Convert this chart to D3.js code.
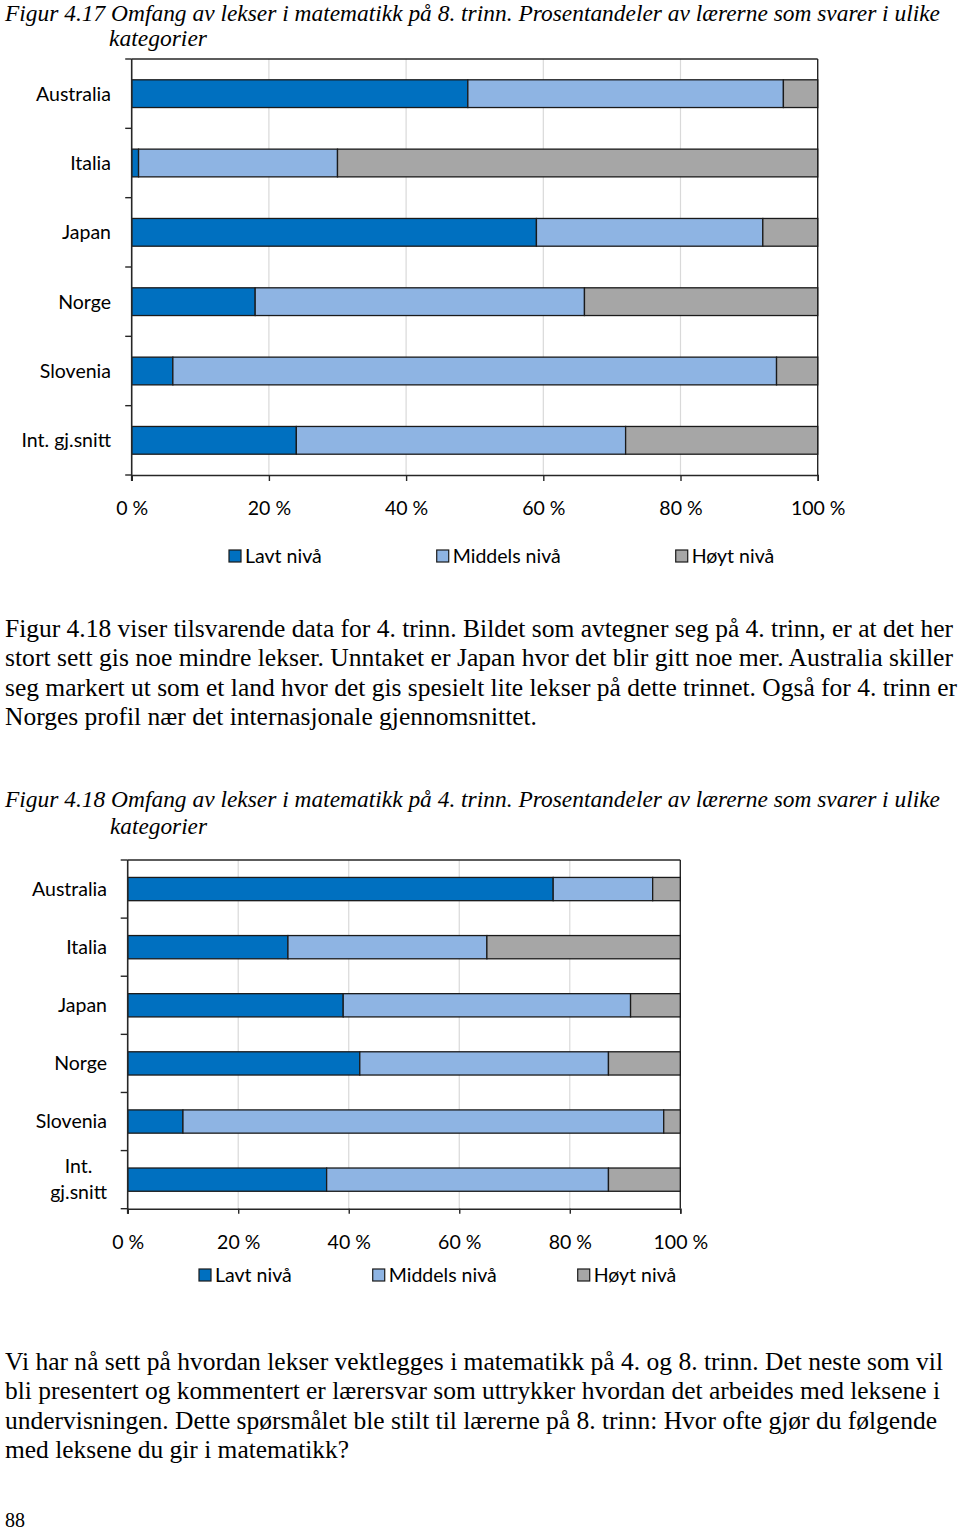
<!DOCTYPE html>
<html>
<head>
<meta charset="utf-8">
<script src="https://cdn.jsdelivr.net/npm/d3@7/dist/d3.min.js"></script>
<style>
  html, body { margin: 0; padding: 0; background: #fff; }
  svg { display: block; }
</style>
</head>
<body>
<svg id="page" width="960" height="1532"></svg>
<script>
// ---------------- DATA ----------------
const categories = ["Australia", "Italia", "Japan", "Norge", "Slovenia", "Int. gj.snitt"];
const seriesNames = ["Lavt nivå", "Middels nivå", "Høyt nivå"];
const seriesKeys = ["lavt", "middels", "hoyt"];

// Figur 4.17 – 8. trinn
const lavt8    = [49, 1, 59, 18, 6, 24];
const middels8 = [46, 29, 33, 48, 88, 48];
const hoyt8    = [5, 70, 8, 34, 6, 28];

// Figur 4.18 – 4. trinn
const lavt4    = [77, 29, 39, 42, 10, 36];
const middels4 = [18, 36, 52, 45, 87, 51];
const hoyt4    = [5, 35, 9, 13, 3, 13];

const tickValues = [0, 20, 40, 60, 80, 100];
const tickLabels = ["0 %", "20 %", "40 %", "60 %", "80 %", "100 %"];

const title1 = ["Figur 4.17 Omfang av lekser i matematikk på 8. trinn. Prosentandeler av lærerne som svarer i ulike", "kategorier"];
const title2 = ["Figur 4.18 Omfang av lekser i matematikk på 4. trinn. Prosentandeler av lærerne som svarer i ulike", "kategorier"];
const para1 = [
  "Figur 4.18 viser tilsvarende data for 4. trinn. Bildet som avtegner seg på 4. trinn, er at det her",
  "stort sett gis noe mindre lekser. Unntaket er Japan hvor det blir gitt noe mer. Australia skiller",
  "seg markert ut som et land hvor det gis spesielt lite lekser på dette trinnet. Også for 4. trinn er",
  "Norges profil nær det internasjonale gjennomsnittet."
];
const para2 = [
  "Vi har nå sett på hvordan lekser vektlegges i matematikk på 4. og 8. trinn. Det neste som vil",
  "bli presentert og kommentert er lærersvar som uttrykker hvordan det arbeides med leksene i",
  "undervisningen. Dette spørsmålet ble stilt til lærerne på 8. trinn: Hvor ofte gjør du følgende",
  "med leksene du gir i matematikk?"
];
const pageNumber = "88";

// ---------------- STYLE ----------------
const colors = { lavt: "#0070C0", middels: "#8EB4E3", hoyt: "#A6A6A6" };
const chartFont = "Lato, 'Open Sans', 'Noto Sans', sans-serif";
const serifFont = "'Liberation Serif', 'DejaVu Serif', serif";
const axisColor = "#262626";
const gridColor = "#D9D9D9";

const svg = d3.select("#page");
svg.append("rect").attr("width", 960).attr("height", 1532).attr("fill", "#fff");

// fit chart font so that "Australia" measures like the reference (≈75px)
const probe = svg.append("text").attr("font-family", chartFont).attr("font-size", 100).text("Australia");
const probeW = probe.node().getComputedTextLength();
probe.remove();
const chartFontSize = Math.min(22, 100 * 75 / probeW);

// ---------------- TEXT HELPERS ----------------
function textLine(str, x, y, opts) {
  const t = svg.append("text")
    .attr("x", x).attr("y", y)
    .attr("font-family", opts.family || serifFont)
    .attr("font-size", opts.size)
    .attr("font-style", opts.italic ? "italic" : "normal")
    .attr("fill", "#000")
    .text(str);
  if (opts.width) t.attr("textLength", opts.width).attr("lengthAdjust", "spacingAndGlyphs");
  return t;
}

// ---------------- CHART ----------------
function drawChart(cfg) {
  const data = categories.map((c, i) => ({
    cat: c, lavt: cfg.lavt[i], middels: cfg.middels[i], hoyt: cfg.hoyt[i]
  }));
  const x = d3.scaleLinear().domain([0, 100]).range([cfg.x0, cfg.x1]);
  const y = d3.scaleBand().domain(categories).range([cfg.y0, cfg.y1])
    .paddingInner(0.6).paddingOuter(0.3);
  const stacked = d3.stack().keys(seriesKeys)(data);

  const g = svg.append("g");

  // gridlines
  g.selectAll("line.grid").data(tickValues.slice(1, -1)).join("line")
    .attr("x1", d => x(d)).attr("x2", d => x(d))
    .attr("y1", cfg.y0).attr("y2", cfg.y1)
    .attr("stroke", gridColor).attr("stroke-width", 1.2);

  // plot-area border (top & right)
  g.append("line").attr("x1", cfg.x0).attr("x2", cfg.x1).attr("y1", cfg.y0).attr("y2", cfg.y0)
    .attr("stroke", axisColor).attr("stroke-width", 1.4);
  g.append("line").attr("x1", cfg.x1).attr("x2", cfg.x1).attr("y1", cfg.y0).attr("y2", cfg.y1)
    .attr("stroke", axisColor).attr("stroke-width", 1.4);

  // bars
  g.selectAll("g.series").data(stacked).join("g")
    .attr("fill", d => colors[d.key])
    .selectAll("rect").data(d => d).join("rect")
    .attr("x", d => x(d[0]))
    .attr("width", d => x(d[1]) - x(d[0]))
    .attr("y", d => y(d.data.cat))
    .attr("height", y.bandwidth())
    .attr("stroke", "#1a1a1a").attr("stroke-width", 1.3);

  // x axis
  const xAxis = d3.axisBottom(x).tickValues(tickValues).tickSize(cfg.tickLenX)
    .tickFormat((d, i) => tickLabels[i]).tickPadding(0);
  const ax = g.append("g").attr("transform", `translate(0,${cfg.y1})`).call(xAxis);
  ax.select(".domain").attr("stroke", axisColor).attr("stroke-width", 1.6);
  ax.selectAll(".tick line").attr("stroke", axisColor).attr("stroke-width", 1.4);
  ax.selectAll(".tick text")
    .attr("font-family", chartFont).attr("font-size", chartFontSize).attr("fill", "#000")
    .attr("dy", null).attr("y", cfg.tickLabelY - cfg.y1);

  // y axis: tick marks at band boundaries
  const step = (cfg.y1 - cfg.y0) / categories.length;
  const bounds = d3.range(categories.length + 1).map(i => cfg.y0 + i * step);
  g.selectAll("line.ytick").data(bounds).join("line")
    .attr("x1", cfg.x0 - cfg.tickLenY).attr("x2", cfg.x0)
    .attr("y1", d => d).attr("y2", d => d)
    .attr("stroke", axisColor).attr("stroke-width", 1.4);
  g.append("line").attr("x1", cfg.x0).attr("x2", cfg.x0).attr("y1", cfg.y0).attr("y2", cfg.y1 + cfg.tickLenX)
    .attr("stroke", axisColor).attr("stroke-width", 1.6);

  // category labels
  categories.forEach(c => {
    const cy = y(c) + y.bandwidth() / 2;
    const lines = (cfg.wrap && c.indexOf(" ") > 0) ? c.split(" ") : [c];
    const t = g.append("text")
      .attr("font-family", chartFont).attr("font-size", chartFontSize).attr("fill", "#000");
    if (lines.length === 1) {
      t.attr("x", cfg.labelRight).attr("y", cy).attr("dy", "0.35em")
        .attr("text-anchor", "end").text(c);
    } else {
      t.attr("text-anchor", "middle");
      const spans = lines.map((l, i) => t.append("tspan").text(l));
      const maxW = d3.max(spans, s => s.node().getComputedTextLength());
      const cx = cfg.labelRight - maxW / 2;
      const lh = 26;
      spans.forEach((s, i) => s.attr("x", cx).attr("y", cy + (i - (lines.length - 1) / 2) * lh).attr("dy", "0.35em"));
    }
  });

  // legend
  let lx = cfg.legendX;
  seriesKeys.forEach((k, i) => {
    const sq = 12;
    g.append("rect").attr("x", lx).attr("y", cfg.legendY - 13).attr("width", sq).attr("height", sq)
      .attr("fill", colors[k]).attr("stroke", "#1a1a1a").attr("stroke-width", 1.2);
    const t = g.append("text").attr("x", lx + sq + 4).attr("y", cfg.legendY)
      .attr("font-family", chartFont).attr("font-size", chartFontSize).attr("fill", "#000")
      .text(seriesNames[i]);
    lx += sq + 4 + t.node().getComputedTextLength() + cfg.legendGap;
  });
}

// ---------------- PAGE ----------------
// Title 1
textLine(title1[0], 5, 20.5, { size: 23, italic: true, width: 935 });
textLine(title1[1], 109, 46, { size: 23, italic: true, width: 98 });

drawChart({
  lavt: lavt8, middels: middels8, hoyt: hoyt8,
  x0: 131.7, x1: 817.7, y0: 59, y1: 475,
  labelRight: 111, tickLenX: 6, tickLenY: 6.5, tickLabelY: 515,
  legendX: 229, legendY: 563, legendGap: 115, wrap: false
});

// Paragraph 1
const p1Widths = [948, 948, 952, 532];
para1.forEach((l, i) => textLine(l, 5, 637 + i * 29.3, { size: 25.5, width: p1Widths[i] }));

// Title 2
textLine(title2[0], 5, 807, { size: 23, italic: true, width: 935 });
textLine(title2[1], 110, 834, { size: 23, italic: true, width: 97 });

drawChart({
  lavt: lavt4, middels: middels4, hoyt: hoyt4,
  x0: 127.7, x1: 680.3, y0: 860, y1: 1208.7,
  labelRight: 107, tickLenX: 5, tickLenY: 7, tickLabelY: 1249,
  legendX: 199, legendY: 1282, legendGap: 81, wrap: true
});

// Paragraph 2
const p2Widths = [938, 935, 932, 344];
para2.forEach((l, i) => textLine(l, 5, 1370 + i * 29.3, { size: 25.5, width: p2Widths[i] }));

// page number
textLine(pageNumber, 5, 1527, { size: 20 });
</script>
</body>
</html>
